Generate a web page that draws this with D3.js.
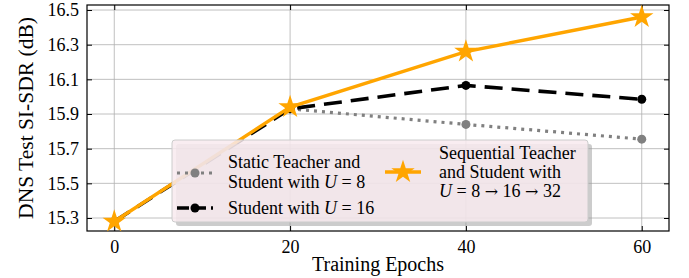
<!DOCTYPE html>
<html>
<head>
<meta charset="utf-8">
<script src="https://cdn.jsdelivr.net/npm/d3@7"></script>
<style>
  body { margin: 0; background: #fff; }
  svg { display: block; font-family: "Liberation Serif", "DejaVu Serif", serif; }
</style>
</head>
<body>
<svg id="chart" width="689" height="278"></svg>
<script>
// Distillation results: DNS test SI-SDR vs. training epochs
const epochs = [0, 20, 40, 60];
const staticU8 = [null, 15.93, 15.84, 15.755];
const studentU16 = [15.28, 15.93, 16.065, 15.985];
const sequential = [15.28, 15.94, 16.26, 16.46];
const yTicks = [15.3, 15.5, 15.7, 15.9, 16.1, 16.3, 16.5];
const xTicks = [0, 20, 40, 60];

const width = 689, height = 278;
const margin = { top: 5, right: 20, bottom: 47, left: 87 };

const svg = d3.select("#chart");

const x = d3.scaleLinear()
  .domain([-3.1, 63.1])
  .range([margin.left, width - margin.right]);

const y = d3.scaleLinear()
  .domain([15.225, 16.529])
  .range([height - margin.bottom, margin.top]);

// Grid lines
const grid = svg.append("g");
grid.selectAll("line.gx")
  .data(xTicks)
  .join("line")
  .attr("x1", d => x(d)).attr("x2", d => x(d))
  .attr("y1", y.range()[0]).attr("y2", y.range()[1])
  .attr("stroke", "#b0b0b0").attr("stroke-width", 0.8);
grid.selectAll("line.gy")
  .data(yTicks)
  .join("line")
  .attr("x1", x.range()[0]).attr("x2", x.range()[1])
  .attr("y1", d => y(d)).attr("y2", d => y(d))
  .attr("stroke", "#b0b0b0").attr("stroke-width", 0.8);

// Axes with inward ticks on all four sides
const axisStyle = g => {
  g.select(".domain").remove();
  g.selectAll(".tick line").attr("stroke", "#000").attr("stroke-width", 1);
  g.selectAll(".tick text")
    .attr("fill", "#000")
    .style("font-size", "18px")
    .style("font-family", "Liberation Serif, serif");
};

svg.append("g")
  .attr("transform", `translate(0,${y.range()[0]})`)
  .call(d3.axisBottom(x).tickValues(xTicks).tickSize(-5).tickPadding(9).tickFormat(d3.format("d")))
  .call(axisStyle);

svg.append("g")
  .attr("transform", `translate(0,${y.range()[1]})`)
  .call(d3.axisTop(x).tickValues(xTicks).tickSize(-5).tickFormat(""))
  .call(axisStyle);

svg.append("g")
  .attr("transform", `translate(${x.range()[0]},0)`)
  .call(d3.axisLeft(y).tickValues(yTicks).tickSize(-5).tickPadding(8).tickFormat(d3.format(".1f")))
  .call(axisStyle);

svg.append("g")
  .attr("transform", `translate(${x.range()[1]},0)`)
  .call(d3.axisRight(y).tickValues(yTicks).tickSize(-5).tickFormat(""))
  .call(axisStyle);

// Frame
svg.append("rect")
  .attr("x", x.range()[0]).attr("y", y.range()[1])
  .attr("width", x.range()[1] - x.range()[0])
  .attr("height", y.range()[0] - y.range()[1])
  .attr("fill", "none").attr("stroke", "#000").attr("stroke-width", 1.2);

// Series
const series = [
  { name: "static", values: staticU8, color: "#808080", width: 3.2, dash: "3,5", marker: "circle" },
  { name: "student", values: studentU16, color: "#000", width: 3.6, dash: "18,9", marker: "circle" },
  { name: "sequential", values: sequential, color: "#ffa500", width: 3.4, dash: null, marker: "star" }
];

const line = d3.line()
  .defined(d => d.v !== null)
  .x(d => x(d.e))
  .y(d => y(d.v));

const starSym = d3.symbol().type(d3.symbolStar).size(170);

const plot = svg.append("g");
series.forEach(s => {
  const pts = epochs.map((e, i) => ({ e, v: s.values[i] }));
  plot.append("path")
    .datum(pts)
    .attr("fill", "none")
    .attr("stroke", s.color)
    .attr("stroke-width", s.width)
    .attr("stroke-dasharray", s.dash)
    .attr("d", line);

  if (s.marker === "circle") {
    plot.selectAll(null)
      .data(pts.filter(d => d.v !== null))
      .join("circle")
      .attr("cx", d => x(d.e)).attr("cy", d => y(d.v))
      .attr("r", 4.5)
      .attr("fill", s.color);
  } else {
    plot.selectAll(null)
      .data(pts)
      .join("path")
      .attr("transform", d => `translate(${x(d.e)},${y(d.v)})`)
      .attr("d", starSym)
      .attr("fill", s.color);
  }
});

// Legend
const lg = svg.append("g");
lg.append("rect")
  .attr("x", 176).attr("y", 144).attr("width", 416).attr("height", 82)
  .attr("rx", 3).attr("fill", "#999").attr("opacity", 0.5);
lg.append("rect")
  .attr("x", 172).attr("y", 140).attr("width", 416).attr("height", 82)
  .attr("rx", 3).attr("fill", "#f8eaee").attr("fill-opacity", 0.85)
  .attr("stroke", "#cccccc").attr("stroke-width", 1);

const legendItems = [
  { s: series[0], hx: 177, hy: 173, tx: 228, lines: [["Static Teacher and"], ["Student with ", ["U"], " = 8"]], ly: [168, 188] },
  { s: series[1], hx: 177, hy: 208, tx: 228, lines: [["Student with ", ["U"], " = 16"]], ly: [214] },
  { s: series[2], hx: 385, hy: 172, tx: 439, lines: [["Sequential Teacher"], ["and Student with"], [["U"], " = 8 ", { a: "→" }, " 16 ", { a: "→" }, " 32"]], ly: [159, 178, 197] }
];

legendItems.forEach(item => {
  const s = item.s;
  lg.append("line")
    .attr("x1", item.hx).attr("x2", item.hx + 36)
    .attr("y1", item.hy).attr("y2", item.hy)
    .attr("stroke", s.color).attr("stroke-width", s.width)
    .attr("stroke-dasharray", s.name === "static" ? "3,5" : s.name === "student" ? "12,5" : null);
  if (s.marker === "circle") {
    lg.append("circle").attr("cx", item.hx + 18).attr("cy", item.hy).attr("r", 4.5).attr("fill", s.color);
  } else {
    lg.append("path").attr("transform", `translate(${item.hx + 18},${item.hy})`)
      .attr("d", starSym).attr("fill", s.color);
  }
  item.lines.forEach((parts, i) => {
    const t = lg.append("text")
      .attr("x", item.tx).attr("y", item.ly[i])
      .style("font-size", "18px").attr("fill", "#000");
    parts.forEach(p => {
      if (Array.isArray(p)) t.append("tspan").style("font-style", "italic").text(p[0]);
      else if (typeof p === "object") t.append("tspan").style("font-family", "DejaVu Serif, serif").style("font-size", "16px").text(p.a);
      else t.append("tspan").text(p);
    });
  });
});

// Axis labels
svg.append("text")
  .attr("x", (x.range()[0] + x.range()[1]) / 2)
  .attr("y", 271)
  .attr("text-anchor", "middle")
  .style("font-size", "20px")
  .text("Training Epochs");

svg.append("text")
  .attr("transform", "rotate(-90)")
  .attr("x", -(y.range()[0] + y.range()[1]) / 2)
  .attr("y", 33)
  .attr("text-anchor", "middle")
  .style("font-size", "21.5px")
  .text("DNS Test SI-SDR (dB)");
</script>
</body>
</html>
